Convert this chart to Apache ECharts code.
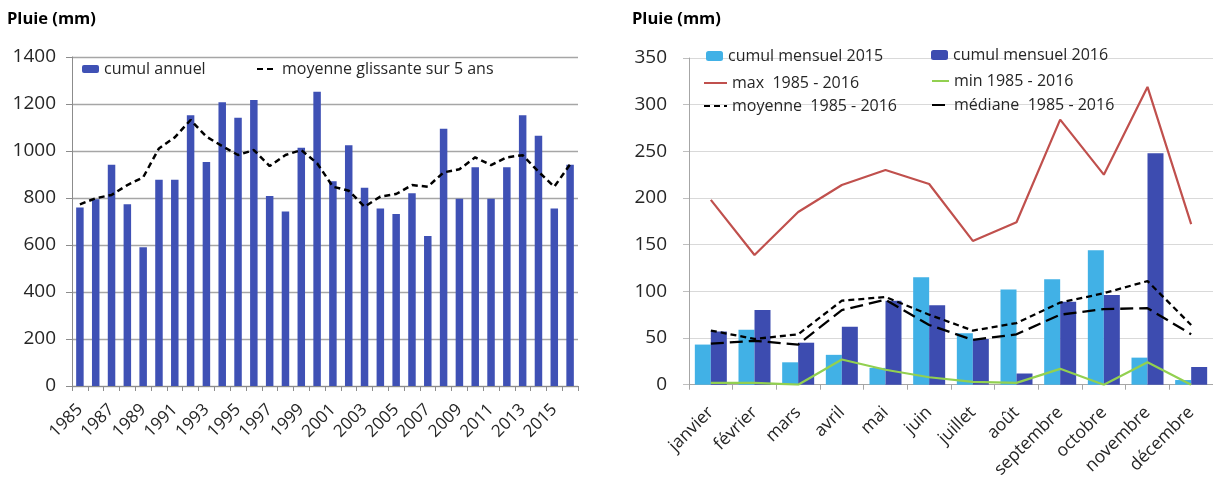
<!DOCTYPE html>
<html><head><meta charset="utf-8">
<script src="https://cdn.jsdelivr.net/npm/echarts@6/dist/echarts.min.js"></script>
<style>html,body{margin:0;padding:0;background:#fff}#c{width:1213px;height:481px}</style>
</head><body><div id="c"></div>
<script>
const years = ['1985','1986','1987','1988','1989','1990','1991','1992','1993','1994','1995','1996','1997','1998','1999','2000','2001','2002','2003','2004','2005','2006','2007','2008','2009','2010','2011','2012','2013','2014','2015','2016'];
const cumulAnnuel = [760,795,942,773,590,878,878,1152,953,1207,1142,1217,809,743,1014,1252,871,1024,844,755,732,820,638,1095,797,931,797,931,1152,1065,755,942];
const moyenneGlissante = [773,799,813,855,888,1011,1058,1132,1061,1021,983,1004,936,983,1004,948,848,831,763,806,817,855,848,909,922,973,940,973,982,912,848,943];
const yTicksLeft = {min:0, max:1400, interval:200};

const months = ['janvier','février','mars','avril','mai','juin','juillet','août','septembre','octobre','novembre','décembre'];
const mensuel2015 = [43,59,24,32,18,115,55,102,113,144,29,5];
const mensuel2016 = [57,80,45,62,90,85,49,12,89,96,248,19];
const max8516 = [198,139,185,214,230,215,154,174,284,225,319,172];
const min8516 = [2,2,0,27,16,8,3,2,17,0,24,0];
const moyenne8516 = [58,49,54,90,94,75,58,66,88,98,111,64];
const mediane8516 = [44,47,43,80,91,64,48,54,75,81,82,54];
const yTicksRight = {min:0, max:350, interval:50};

const FONT = 'Open Sans';
const TXT = '#262626';
const chart = echarts.init(document.getElementById('c'), null, {renderer:'canvas'});

function lg(name, left, top, w, h, isLine){
  const o = {data:[name], left:left, top:top, itemWidth:w, itemHeight:h, itemGap:8,
    padding:0, textStyle:{fontFamily:FONT, fontSize:16, color:TXT}, selectedMode:false};
  if (isLine) o.itemStyle = {opacity:0};
  return o;
}

chart.setOption({
  animation:false,
  textStyle:{fontFamily:FONT},
  title:[
    {text:'Pluie (mm)', left:7, top:11, padding:0, textStyle:{fontFamily:FONT, fontSize:16.5, fontWeight:'bold', color:'#000'}},
    {text:'Pluie (mm)', left:632, top:11, padding:0, textStyle:{fontFamily:FONT, fontSize:16.5, fontWeight:'bold', color:'#000'}}
  ],
  legend:[
    lg('cumul annuel', 82, 61, 17, 8, false),
    lg('moyenne glissante sur 5 ans', 256, 61, 20, 8, true),
    lg('cumul mensuel 2015', 706, 48, 17, 10, false),
    lg('max  1985 - 2016', 703, 75, 23, 10, true),
    lg('moyenne  1985 - 2016', 703, 98, 23, 10, true),
    lg('cumul mensuel 2016', 931, 47, 17, 10, false),
    lg('min 1985 - 2016', 931, 73, 17, 10, true),
    lg('médiane  1985 - 2016', 931, 97, 17, 10, true)
  ],
  grid:[
    {left:72, right:635, top:57, bottom:95},
    {left:689, right:-4, top:58, bottom:96}
  ],
  xAxis:[
    {type:'category', gridIndex:0, data:years,
      axisLine:{lineStyle:{color:'#8c8c8c', width:1}},
      axisTick:{show:true, interval:0, length:5, lineStyle:{color:'#8c8c8c'}},
      axisLabel:{interval:1, rotate:45, fontSize:17, color:TXT, fontFamily:FONT, margin:21}},
    {type:'category', gridIndex:1, data:months,
      axisLine:{lineStyle:{color:'#a6a6a6', width:1}},
      axisTick:{show:true, interval:0, length:5, lineStyle:{color:'#a6a6a6'}},
      axisLabel:{interval:0, rotate:45, fontSize:17.5, color:TXT, fontFamily:FONT, margin:25}}
  ],
  yAxis:[
    {type:'value', gridIndex:0, min:yTicksLeft.min, max:yTicksLeft.max, interval:yTicksLeft.interval,
      axisLine:{show:true, lineStyle:{color:'#8c8c8c'}},
      axisTick:{show:true, length:6, lineStyle:{color:'#8c8c8c'}},
      splitLine:{lineStyle:{color:'#a6a6a6', width:1.3}},
      axisLabel:{fontSize:19, color:TXT, fontFamily:FONT, margin:16, formatter:function(v){return String(v);}}},
    {type:'value', gridIndex:1, min:yTicksRight.min, max:yTicksRight.max, interval:yTicksRight.interval,
      axisLine:{show:true, lineStyle:{color:'#a6a6a6'}},
      axisTick:{show:true, length:6, lineStyle:{color:'#bfbfbf'}},
      splitLine:{lineStyle:{color:'#d9d9d9', width:1}},
      axisLabel:{fontSize:19, color:TXT, fontFamily:FONT, margin:22}}
  ],
  series:[
    {name:'cumul annuel', type:'bar', xAxisIndex:0, yAxisIndex:0, data:cumulAnnuel, barWidth:7.5,
      itemStyle:{color:'#3f51b5'}},
    {name:'moyenne glissante sur 5 ans', type:'line', xAxisIndex:0, yAxisIndex:0, data:moyenneGlissante,
      symbol:'none', lineStyle:{color:'#000', width:2.5, type:[6,4]}, itemStyle:{color:'#000'}},
    {name:'cumul mensuel 2015', type:'bar', xAxisIndex:1, yAxisIndex:1, data:mensuel2015, barWidth:16, barGap:'0%',
      itemStyle:{color:'#41b1e6'}},
    {name:'cumul mensuel 2016', type:'bar', xAxisIndex:1, yAxisIndex:1, data:mensuel2016, barWidth:16, barGap:'0%',
      itemStyle:{color:'#3d4cb0'}},
    {name:'max  1985 - 2016', type:'line', xAxisIndex:1, yAxisIndex:1, data:max8516, symbol:'none',
      lineStyle:{color:'#c0504d', width:2.2}, itemStyle:{color:'#c0504d'}},
    {name:'min 1985 - 2016', type:'line', xAxisIndex:1, yAxisIndex:1, data:min8516, symbol:'none',
      lineStyle:{color:'#92d050', width:2.2}, itemStyle:{color:'#92d050'}},
    {name:'moyenne  1985 - 2016', type:'line', xAxisIndex:1, yAxisIndex:1, data:moyenne8516, symbol:'none',
      lineStyle:{color:'#000', width:2.3, type:[6,4]}, itemStyle:{color:'#000'}},
    {name:'médiane  1985 - 2016', type:'line', xAxisIndex:1, yAxisIndex:1, data:mediane8516, symbol:'none',
      lineStyle:{color:'#000', width:2.3, type:[13,6]}, itemStyle:{color:'#000'}}
  ]
});
</script></body></html>
